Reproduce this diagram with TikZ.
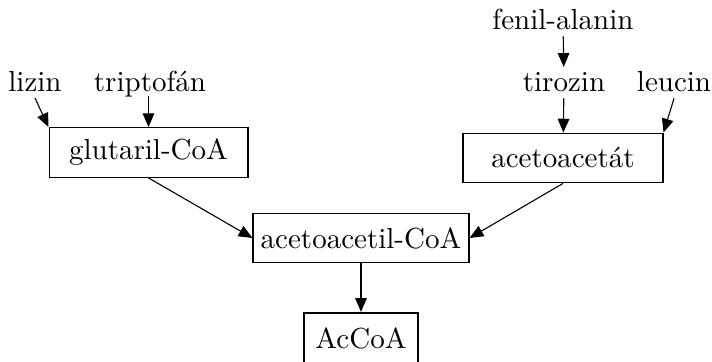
\documentclass[tikz,border=0pt]{standalone}
\usepackage{tikz}
\usetikzlibrary{arrows.meta}

\tikzset{
	every node/.style={font=\fontsize{10.5}{12.6}\selectfont},
	box/.style={draw, line width=0.4pt, minimum height=18pt, inner sep=2pt},
	txt/.style={inner sep=2pt},
	arr/.style={line width=0.4pt, -{Triangle[length=5pt,width=4.2pt]}}
}

\begin{document}
\begin{tikzpicture}[x=0.362pt, y=-0.362pt]
		%%%%% START %%%%%
		
		\useasboundingbox (0, 0) rectangle (712, 362);
		
		% starting amino acids
		\node[txt, anchor=base] (lizin) at (35, 92) {lizin};
		\node[txt, anchor=base] (trip) at (150, 92) {triptof\'an};
		\node[txt, anchor=base] (fenil) at (563, 30) {fenil-alanin};
		\node[txt, anchor=base] (tiro) at (564, 92) {tirozin};
		\node[txt, anchor=base] (leuc) at (674, 92) {leucin};
		
		% intermediates
		\node[box, minimum width=72pt] (glut) at (148.5, 152.5) {glutaril-CoA};
		\node[box, minimum width=72.4pt] (acet) at (563, 158) {acetoacet\'at};
		\node[box, minimum width=78.2pt] (acac) at (361, 238) {acetoacetil-CoA};
		\node[box, minimum width=41.3pt, line width=0.9pt] (accoa) at (361, 338) {AcCoA};
		
		\draw[arr] (lizin.south) -- (glut.north west);
		\draw[arr] ([yshift=-1.5pt]trip.base -| glut.north) -- (glut.north);
		\draw[arr] (fenil) -- (tiro);
		\draw[arr] (tiro) -- (acet);
		\draw[arr] (leuc.south) -- (acet.north east);
		
		\draw[arr] (glut.south) -- (acac.west);
		\draw[arr] (acet.south) -- (acac.east);
		\draw[arr] (acac) -- (accoa);
		
		%%%%% END %%%%%
	\end{tikzpicture}
\end{document}
